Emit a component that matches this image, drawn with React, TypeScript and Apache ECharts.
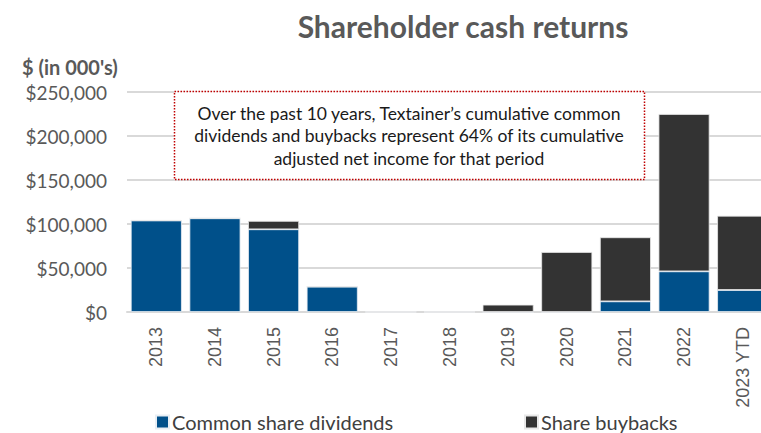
import React, { useEffect, useRef } from "react";
import * as echarts from "echarts";

const categories = ["2013", "2014", "2015", "2016", "2017", "2018", "2019", "2020", "2021", "2022", "2023 YTD"];
const dividends = [104000, 106500, 94000, 28800, 0, 0, 0, 0, 12100, 46200, 25000];
const buybacks = [0, 0, 9500, 0, 0, 0, 8300, 68200, 72800, 178800, 84400];
const yTicks = { min: 0, max: 250000, interval: 50000 };
const noteLines = [
  "Over the past 10 years, Textainer\u2019s cumulative common",
  "dividends and buybacks represent 64% of its cumulative",
  "adjusted net income for that period",
];

const fmt = (v: number) => "$" + v.toString().replace(/\B(?=(\d{3})+(?!\d))/g, ",");

export default function App() {
  const ref = useRef<HTMLDivElement>(null);
  useEffect(() => {
    if (!ref.current) return;
    const chart = echarts.init(ref.current, undefined, { renderer: "svg" });
    const font = "Lato, 'Open Sans', sans-serif";
    const legendCommon = {
      top: 412,
      padding: 0,
      icon: "rect",
      itemWidth: 13,
      itemHeight: 13,
      itemGap: 4,
      textStyle: { fontFamily: font, fontSize: 20, color: "#404040", padding: [0, 0, 0, -2] },
    };
    chart.setOption({
      animation: false,
      title: {
        text: "Shareholder cash returns",
        left: 458,
        textAlign: "center",
        top: 6,
        textStyle: { fontFamily: font, fontSize: 30, fontWeight: "bold", color: "#595959" },
      },
      legend: [
        { ...legendCommon, data: ["Common share dividends"], left: 155 },
        { ...legendCommon, data: ["Share buybacks"], left: 524 },
      ],
      grid: { left: 127, top: 92, width: 645, height: 220, containLabel: false, outerBoundsMode: "none" },
      xAxis: {
        type: "category",
        data: categories,
        axisLine: { lineStyle: { color: "#d9d9d9", width: 2 } },
        axisTick: { show: false },
        axisLabel: {
          rotate: 90,
          margin: 15,
          interval: 0,
          fontFamily: "'Liberation Sans', Arial, sans-serif",
          fontSize: 18,
          color: "#595959",
        },
      },
      yAxis: {
        type: "value",
        min: yTicks.min,
        max: yTicks.max,
        interval: yTicks.interval,
        axisLine: { show: false },
        axisTick: { show: false },
        splitLine: { lineStyle: { color: "#d9d9d9", width: 2 } },
        axisLabel: {
          margin: 20,
          formatter: (v: number) => fmt(v),
          fontFamily: font,
          fontSize: 19,
          color: "#595959",
        },
      },
      series: [
        {
          name: "Common share dividends",
          type: "bar",
          stack: "total",
          data: dividends,
          barCategoryGap: "13%",
          itemStyle: { color: "#00508a", borderColor: "#e8eef4", borderWidth: 0.8 },
        },
        {
          name: "Share buybacks",
          type: "bar",
          stack: "total",
          data: buybacks,
          barCategoryGap: "13%",
          itemStyle: { color: "#333333", borderColor: "#e8e8e8", borderWidth: 0.8 },
        },
      ],
      graphic: [
        {
          type: "text",
          left: 22,
          top: 57,
          style: {
            text: "$ (in 000's)",
            fill: "#595959",
            fontFamily: font,
            fontSize: 20,
            fontWeight: "bold",
          },
        },
        {
          type: "rect",
          shape: { x: 174.5, y: 91.5, width: 470, height: 88 },
          style: { fill: "#ffffff", stroke: "#c00000", lineWidth: 1.5, lineDash: [1.5, 1.5] },
          z: 10,
        },
        ...noteLines.map((t, i) => ({
          type: "text",
          x: 409,
          y: 113 + i * 22.5,
          z: 11,
          style: {
            text: t,
            fill: "#1a1a1a",
            fontFamily: font,
            fontSize: 17.5,
            textAlign: "center",
            textVerticalAlign: "middle",
          },
        })),
      ],
    });
    return () => chart.dispose();
  }, []);
  return <div ref={ref} style={{ width: 761, height: 433, position: "absolute", left: 0, top: 0 }} />;
}
